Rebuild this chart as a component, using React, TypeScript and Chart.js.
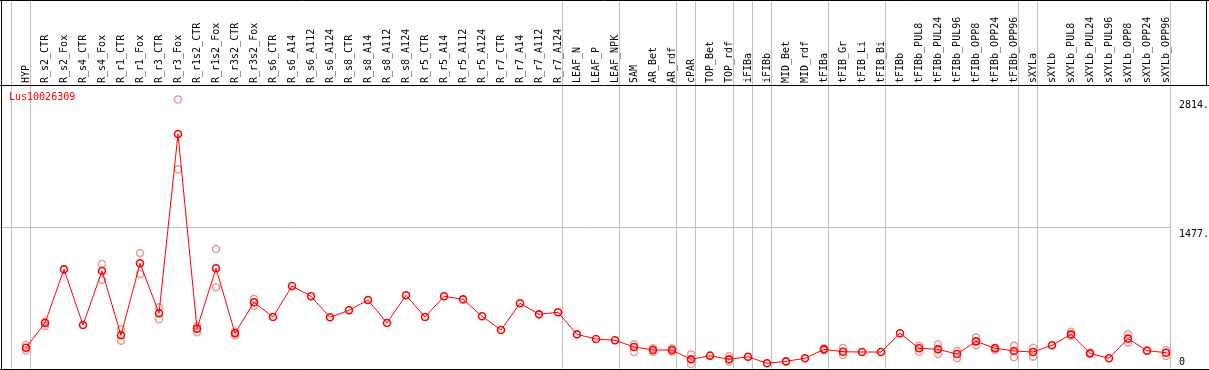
import React, { useEffect, useRef } from "react";
import { Chart, registerables } from "chart.js";

Chart.register(...registerables);

const geneName = "Lus10026309";

const categories = [
  "HYP", "R_s2_CTR", "R_s2_Fox", "R_s4_CTR", "R_s4_Fox", "R_r1_CTR", "R_r1_Fox", "R_r3_CTR", "R_r3_Fox",
  "R_r1s2_CTR", "R_r1s2_Fox", "R_r3s2_CTR", "R_r3s2_Fox",
  "R_s6_CTR", "R_s6_A14", "R_s6_A112", "R_s6_A124", "R_s8_CTR", "R_s8_A14", "R_s8_A112", "R_s8_A124",
  "R_r5_CTR", "R_r5_A14", "R_r5_A112", "R_r5_A124", "R_r7_CTR", "R_r7_A14", "R_r7_A112", "R_r7_A124",
  "LEAF_N", "LEAF_P", "LEAF_NPK", "SAM", "AR_Bet", "AR_rdf", "cPAR", "TOP_Bet", "TOP_rdf",
  "iFIBa", "iFIBb", "MID_Bet", "MID_rdf", "tFIBa", "tFIB_Gr", "tFIB_Li", "tFIB_Bi",
  "tFIBb", "tFIBb_PUL8", "tFIBb_PUL24", "tFIBb_PUL96", "tFIBb_OPP8", "tFIBb_OPP24", "tFIBb_OPP96",
  "sXYLa", "sXYLb", "sXYLb_PUL8", "sXYLb_PUL24", "sXYLb_PUL96", "sXYLb_OPP8", "sXYLb_OPP24", "sXYLb_OPP96",
];

const meanValues = [
  232, 489, 1047, 468, 1030, 361, 1110, 590, 2455,
  430, 1058, 382, 704,
  551, 874, 767, 548, 621, 728, 489, 777,
  551, 767, 735, 559, 416, 694, 579, 600,
  371, 322, 309, 239, 208, 208, 111, 149, 111,
  138, 70, 90, 122, 215, 190, 187, 187,
  382, 226, 215, 166, 298, 226, 198,
  187, 257, 371, 174, 122, 326, 201, 180,
];

const replicateA = [
  260, 502, null, null, 1102, 423, 1217, 652, 2814,
  458, 1258, 398, 742,
  null, null, null, null, null, null, null, null,
  null, null, null, null, null, null, null, null,
  null, null, null, 267, 226, 226, 163, null, 146,
  null, null, null, null, 226, 229, null, null,
  null, 253, 267, 201, 340, 232, 253,
  232, null, 398, 180, null, 371, null, 208,
];

const replicateB = [
  205, 458, null, null, 936, 305, 998, 527, 2088,
  392, 860, 361, 666,
  null, null, null, null, null, null, null, null,
  null, null, null, null, null, null, null, null,
  null, null, null, 187, 190, 190, 62, null, 86,
  null, null, null, null, 205, 156, null, null,
  null, 190, 166, 122, 257, 208, 132,
  138, null, 354, 166, null, 284, null, 146,
];

const yTickValues = [0, 1477, 2814];
const yTickLabels = ["0", "1477.", "2814."];
const yAxisMax = 2964;
// index of the last category of each group (-1 = before the first)
const groupEnds = [-1, 0, 28, 31, 34, 35, 37, 38, 39, 42, 45, 52, 53, 60];

const FONT = "10px 'DejaVu Sans Mono', monospace";
const MAIN_RED = "#ff0000";
const REP_PINK = "#eb9a9a";
const GRID_GREY = "#c0c0c0";

const framePlugin = {
  id: "frame",
  beforeDatasetsDraw(chart: any) {
    const { ctx, width, height, chartArea } = chart;
    const xs = chart.scales.x;
    const ys = chart.scales.y;
    const hline = (x1: number, x2: number, yy: number) => {
      ctx.beginPath();
      ctx.moveTo(x1, yy);
      ctx.lineTo(x2, yy);
      ctx.stroke();
    };
    const vline = (xx: number, y1: number, y2: number) => {
      ctx.beginPath();
      ctx.moveTo(xx, y1);
      ctx.lineTo(xx, y2);
      ctx.stroke();
    };
    ctx.save();
    ctx.lineWidth = 1;
    ctx.strokeStyle = GRID_GREY;
    const lastLine = Math.floor(xs.getPixelForValue(groupEnds[groupEnds.length - 1]) + 4.5) + 0.5;
    ys.ticks.forEach((t: any, i: number) => {
      if (i === 0 || i === ys.ticks.length - 1) return;
      const py = Math.floor(ys.getPixelForValue(t.value)) + 0.5;
      hline(0, lastLine, py);
    });
    groupEnds.forEach((k) => {
      const px = Math.floor(xs.getPixelForValue(k) + 4.5) + 0.5;
      vline(px, 0, height);
    });
    ctx.strokeStyle = "#000";
    hline(0, width, 0.5);
    hline(0, width, Math.floor(chartArea.top) + 0.5);
    hline(0, width, height - 0.5);
    vline(1.5, 0, height);
    vline(width - 2.5, 0, Math.floor(chartArea.top) + 0.5);

    ctx.font = FONT;
    ctx.textBaseline = "middle";
    ctx.textAlign = "left";
    ctx.fillStyle = "#000";
    ys.ticks.forEach((t: any, i: number) => {
      const py = Math.min(ys.getPixelForValue(t.value) + 6, chartArea.bottom - 8);
      ctx.fillText(yTickLabels[i], chartArea.right + 13, py);
    });
    ctx.fillStyle = MAIN_RED;
    ctx.fillText(geneName, 9, chartArea.top + 12);
    ctx.restore();
  },
};

export default function App() {
  const canvasRef = useRef<HTMLCanvasElement | null>(null);

  useEffect(() => {
    document.body.style.margin = "0";
    const canvas = canvasRef.current;
    if (!canvas) return;
    const repStyle = {
      showLine: false,
      pointRadius: 3.5,
      pointBorderWidth: 1.5,
      pointBorderColor: REP_PINK,
      pointBackgroundColor: "rgba(0,0,0,0)",
      borderColor: REP_PINK,
      backgroundColor: "rgba(0,0,0,0)",
    };
    const chart = new Chart(canvas, {
      type: "line",
      data: {
        labels: categories,
        datasets: [
          {
            label: geneName,
            data: meanValues,
            borderColor: MAIN_RED,
            borderWidth: 1,
            backgroundColor: "rgba(0,0,0,0)",
            pointRadius: 3.5,
            pointBorderWidth: 1.6,
            pointBorderColor: MAIN_RED,
            pointBackgroundColor: "rgba(0,0,0,0)",
            tension: 0,
            order: 0,
          },
          { label: "rep1", data: replicateA, order: 1, ...repStyle },
          { label: "rep2", data: replicateB, order: 2, ...repStyle },
        ],
      },
      options: {
        responsive: false,
        animation: false,
        events: [],
        layout: { autoPadding: false, padding: { left: 26, right: 0, top: 0, bottom: 0 } },
        plugins: {
          legend: { display: false },
          tooltip: { enabled: false },
          title: { display: false },
        },
        scales: {
          x: {
            type: "category",
            position: "top",
            offset: false,
            grid: { display: false, drawTicks: false },
            border: { display: false },
            ticks: {
              autoSkip: false,
              minRotation: 90,
              maxRotation: 90,
              padding: 2,
              labelOffset: 12,
              color: "#000",
              font: { family: "'DejaVu Sans Mono', monospace", size: 10 },
            },
            afterFit: (s: any) => {
              s.height = 85;
            },
          },
          y: {
            position: "right",
            min: 0,
            max: yAxisMax,
            grid: { display: false, drawTicks: false },
            border: { display: false },
            ticks: { display: false },
            afterBuildTicks: (s: any) => {
              s.ticks = yTickValues.map((v) => ({ value: v }));
            },
            afterFit: (s: any) => {
              s.width = 43;
            },
          },
        },
      },
      plugins: [framePlugin],
    });
    return () => chart.destroy();
  }, []);

  return (
    <div style={{ position: "fixed", left: 0, top: 0, width: 1209, height: 370, background: "#fff" }}>
      <canvas ref={canvasRef} width={1209} height={370} style={{ display: "block" }} />
    </div>
  );
}
